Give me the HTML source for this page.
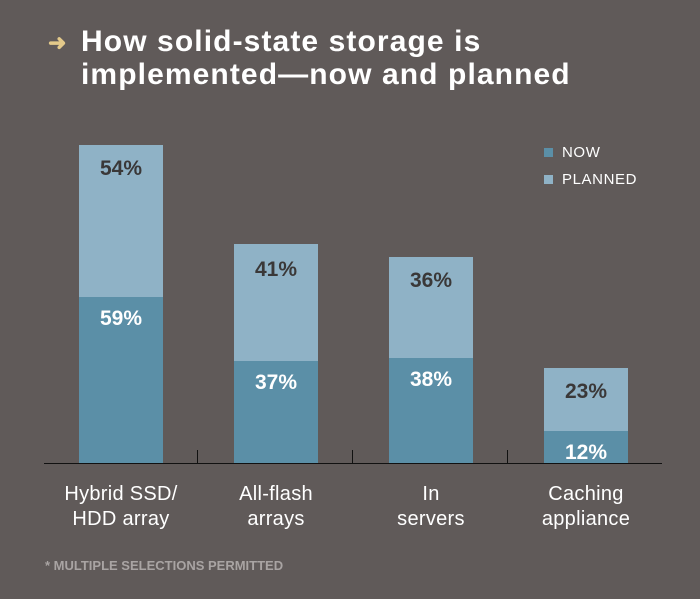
<!DOCTYPE html>
<html><head><style>
body{margin:0;width:700px;height:599px;background:#605a59;position:relative;overflow:hidden;font-family:"Liberation Sans",sans-serif}
.t{position:absolute;left:81px;top:25px;color:#fff;font-weight:bold;font-size:30px;line-height:33px;letter-spacing:1.1px}
.ar{position:absolute;left:48px;top:30px;color:#e3c98a;font-size:22px;font-weight:bold}
.b{position:absolute;width:84px}
.d{background:#5b8fa7}.l{background:#8fb2c6}
.v{position:absolute;width:84px;text-align:center;font-weight:bold;font-size:21px}
.dk{color:#3a3838}.wh{color:#fff}
.c{position:absolute;width:160px;text-align:center;color:#fff;font-size:20px;line-height:25px;letter-spacing:0.3px}
.lg{position:absolute;left:544px;color:#fff;font-size:15px;letter-spacing:0.6px}
.lg i{display:inline-block;width:9px;height:9px;margin-right:9px}
</style></head><body>
<div class="ar">➜</div>
<div class="t">How solid-state storage is<br>implemented—now and planned</div>
<div class="lg" style="top:144px"><i style="background:#5b8fa7"></i>NOW</div>
<div class="lg" style="top:171px"><i style="background:#8fb2c6"></i>PLANNED</div>

<div class="b l" style="left:79px;top:145px;height:152px"></div>
<div class="b d" style="left:79px;top:297px;height:167px"></div>
<div class="b l" style="left:234px;top:244px;height:117px"></div>
<div class="b d" style="left:234px;top:361px;height:103px"></div>
<div class="b l" style="left:389px;top:257px;height:101px"></div>
<div class="b d" style="left:389px;top:358px;height:106px"></div>
<div class="b l" style="left:544px;top:368px;height:63px"></div>
<div class="b d" style="left:544px;top:431px;height:33px"></div>

<div class="v dk" style="left:79px;top:157px">54%</div>
<div class="v wh" style="left:79px;top:307px">59%</div>
<div class="v dk" style="left:234px;top:258px">41%</div>
<div class="v wh" style="left:234px;top:371px">37%</div>
<div class="v dk" style="left:389px;top:269px">36%</div>
<div class="v wh" style="left:389px;top:368px">38%</div>
<div class="v dk" style="left:544px;top:380px">23%</div>
<div class="v wh" style="left:544px;top:441px">12%</div>

<div style="position:absolute;left:44px;top:463px;width:618px;height:1px;background:#111"></div>
<div style="position:absolute;left:197px;top:450px;width:1px;height:14px;background:#111"></div>
<div style="position:absolute;left:352px;top:450px;width:1px;height:14px;background:#111"></div>
<div style="position:absolute;left:507px;top:450px;width:1px;height:14px;background:#111"></div>

<div class="c" style="left:41px;top:482px">Hybrid SSD/<br>HDD array</div>
<div class="c" style="left:196px;top:482px">All-flash<br>arrays</div>
<div class="c" style="left:351px;top:482px">In<br>servers</div>
<div class="c" style="left:506px;top:482px">Caching<br>appliance</div>
<div style="position:absolute;left:45px;top:558px;color:#a9a4a3;font-size:13px;font-weight:bold">* MULTIPLE SELECTIONS PERMITTED</div>
</body></html>
